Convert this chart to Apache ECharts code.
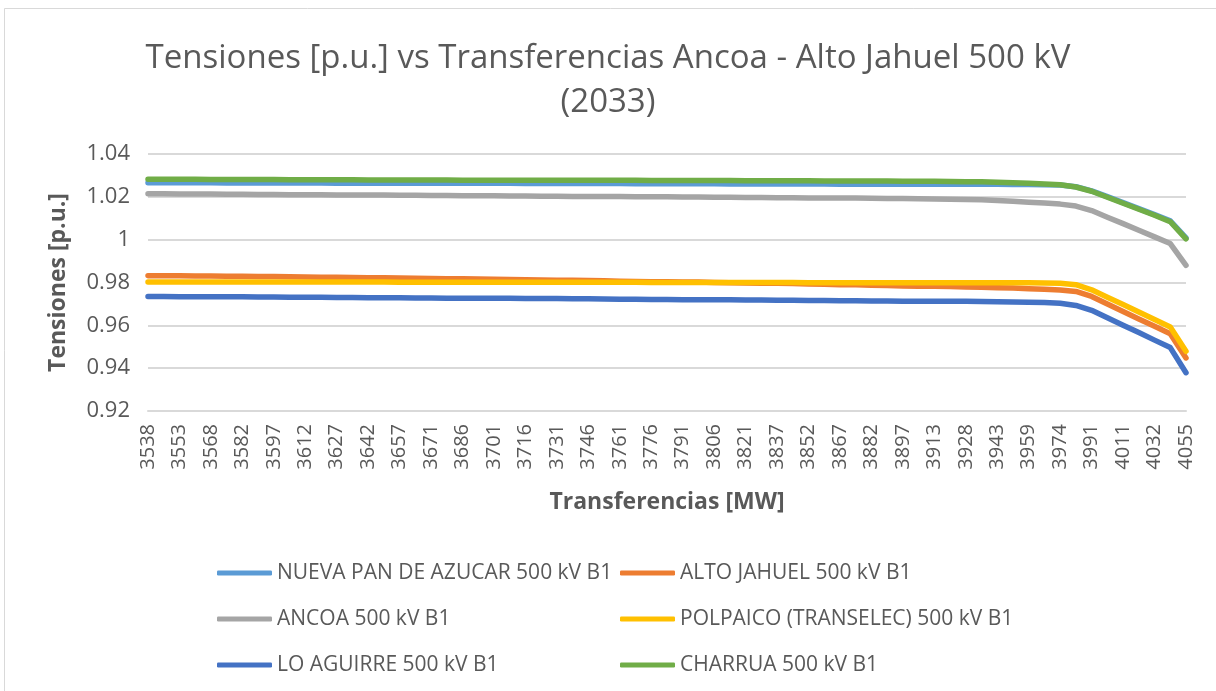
<!DOCTYPE html>
<html>
<head>
<meta charset="utf-8">
<title>Tensiones vs Transferencias</title>
<script src="https://cdn.jsdelivr.net/npm/echarts@6/dist/echarts.min.js"></script>
<style>
  html, body { margin: 0; padding: 0; background: #ffffff; }
  #chart { width: 1216px; height: 691px; }
</style>
</head>
<body>
<div id="chart"></div>
<script>
// Transferencias Ancoa - Alto Jahuel [MW]
const transferencias = [
  3538, 3545, 3553, 3560, 3568, 3575, 3582, 3590, 3597, 3605,
  3612, 3620, 3627, 3634, 3642, 3649, 3657, 3664, 3671, 3679,
  3686, 3694, 3701, 3709, 3716, 3723, 3731, 3738, 3746, 3753,
  3761, 3768, 3776, 3783, 3791, 3798, 3806, 3813, 3821, 3829,
  3837, 3844, 3852, 3859, 3867, 3875, 3882, 3890, 3897, 3905,
  3913, 3920, 3928, 3936, 3943, 3951, 3959, 3967, 3974, 3983,
  3991, 4001, 4011, 4022, 4032, 4044, 4055
];

// Tensiones por barra [p.u.]
const nuevaPanDeAzucar = [
  1.0266, 1.0266, 1.0266, 1.0266, 1.0266, 1.0265, 1.0265, 1.0265, 1.0265, 1.0265,
  1.0265, 1.0265, 1.0264, 1.0264, 1.0264, 1.0264, 1.0264, 1.0264, 1.0263, 1.0263,
  1.0263, 1.0263, 1.0263, 1.0263, 1.0262, 1.0262, 1.0262, 1.0262, 1.0262, 1.0262,
  1.0262, 1.0261, 1.0261, 1.0261, 1.0261, 1.0261, 1.0261, 1.0260, 1.0260, 1.0260,
  1.0260, 1.0260, 1.0260, 1.0260, 1.0259, 1.0259, 1.0259, 1.0259, 1.0259, 1.0259,
  1.0259, 1.0259, 1.0259, 1.0259, 1.0259, 1.0258, 1.0258, 1.0257, 1.0255, 1.0247,
  1.0228, 1.0201, 1.0173, 1.0145, 1.0117, 1.0088, 1.0008
];
const altoJahuel = [
  0.9832, 0.9831, 0.9831, 0.9830, 0.9830, 0.9829, 0.9829, 0.9828, 0.9828, 0.9827,
  0.9826, 0.9825, 0.9824, 0.9823, 0.9822, 0.9822, 0.9821, 0.9820, 0.9819, 0.9818,
  0.9817, 0.9816, 0.9815, 0.9814, 0.9813, 0.9812, 0.9811, 0.9810, 0.9809, 0.9808,
  0.9806, 0.9805, 0.9804, 0.9803, 0.9802, 0.9802, 0.9800, 0.9799, 0.9798, 0.9797,
  0.9796, 0.9795, 0.9793, 0.9792, 0.9790, 0.9789, 0.9787, 0.9786, 0.9784, 0.9783,
  0.9782, 0.9781, 0.9779, 0.9778, 0.9776, 0.9774, 0.9771, 0.9768, 0.9765, 0.9758,
  0.9735, 0.9700, 0.9665, 0.9630, 0.9596, 0.9561, 0.9448
];
const ancoa = [
  1.0214, 1.0214, 1.0213, 1.0213, 1.0213, 1.0212, 1.0212, 1.0211, 1.0211, 1.0210,
  1.0210, 1.0210, 1.0209, 1.0209, 1.0208, 1.0208, 1.0207, 1.0207, 1.0206, 1.0206,
  1.0205, 1.0205, 1.0205, 1.0204, 1.0204, 1.0203, 1.0203, 1.0202, 1.0202, 1.0201,
  1.0201, 1.0200, 1.0200, 1.0200, 1.0199, 1.0199, 1.0198, 1.0198, 1.0197, 1.0197,
  1.0196, 1.0196, 1.0195, 1.0195, 1.0194, 1.0194, 1.0193, 1.0192, 1.0192, 1.0191,
  1.0190, 1.0189, 1.0188, 1.0186, 1.0183, 1.0179, 1.0175, 1.0171, 1.0166, 1.0157,
  1.0136, 1.0105, 1.0075, 1.0044, 1.0013, 0.9982, 0.9880
];
const polpaico = [
  0.9802, 0.9802, 0.9802, 0.9802, 0.9802, 0.9802, 0.9802, 0.9802, 0.9802, 0.9802,
  0.9802, 0.9802, 0.9802, 0.9802, 0.9802, 0.9802, 0.9801, 0.9801, 0.9801, 0.9801,
  0.9801, 0.9801, 0.9801, 0.9801, 0.9801, 0.9801, 0.9801, 0.9801, 0.9801, 0.9801,
  0.9801, 0.9801, 0.9800, 0.9800, 0.9800, 0.9800, 0.9800, 0.9800, 0.9800, 0.9800,
  0.9800, 0.9800, 0.9799, 0.9799, 0.9799, 0.9799, 0.9799, 0.9799, 0.9799, 0.9799,
  0.9799, 0.9799, 0.9799, 0.9799, 0.9799, 0.9799, 0.9799, 0.9798, 0.9797, 0.9790,
  0.9766, 0.9731, 0.9697, 0.9662, 0.9627, 0.9592, 0.9479
];
const loAguirre = [
  0.9735, 0.9735, 0.9734, 0.9734, 0.9733, 0.9733, 0.9733, 0.9732, 0.9732, 0.9731,
  0.9731, 0.9731, 0.9730, 0.9730, 0.9729, 0.9729, 0.9729, 0.9728, 0.9728, 0.9727,
  0.9727, 0.9727, 0.9726, 0.9726, 0.9725, 0.9725, 0.9725, 0.9724, 0.9724, 0.9723,
  0.9722, 0.9722, 0.9721, 0.9721, 0.9720, 0.9720, 0.9719, 0.9719, 0.9718, 0.9718,
  0.9717, 0.9717, 0.9716, 0.9716, 0.9715, 0.9715, 0.9714, 0.9714, 0.9713, 0.9713,
  0.9713, 0.9712, 0.9712, 0.9711, 0.9710, 0.9709, 0.9708, 0.9707, 0.9703, 0.9693,
  0.9670, 0.9635, 0.9600, 0.9566, 0.9531, 0.9496, 0.9379
];
const charrua = [
  1.0282, 1.0282, 1.0282, 1.0282, 1.0281, 1.0281, 1.0281, 1.0281, 1.0281, 1.0280,
  1.0280, 1.0280, 1.0280, 1.0280, 1.0279, 1.0279, 1.0279, 1.0279, 1.0279, 1.0279,
  1.0278, 1.0278, 1.0278, 1.0278, 1.0278, 1.0278, 1.0277, 1.0277, 1.0277, 1.0277,
  1.0277, 1.0277, 1.0276, 1.0276, 1.0276, 1.0276, 1.0276, 1.0276, 1.0275, 1.0275,
  1.0275, 1.0275, 1.0275, 1.0274, 1.0274, 1.0274, 1.0274, 1.0274, 1.0273, 1.0273,
  1.0273, 1.0272, 1.0271, 1.0270, 1.0268, 1.0266, 1.0263, 1.0260, 1.0256, 1.0246,
  1.0226, 1.0198, 1.0170, 1.0142, 1.0114, 1.0084, 1.0004
];

const seriesNames = [
  'NUEVA PAN DE AZUCAR 500 kV B1',
  'ALTO JAHUEL 500 kV B1',
  'ANCOA 500 kV B1',
  'POLPAICO (TRANSELEC) 500 kV B1',
  'LO AGUIRRE 500 kV B1',
  'CHARRUA 500 kV B1'
];
const seriesData = [nuevaPanDeAzucar, altoJahuel, ancoa, polpaico, loAguirre, charrua];
const seriesColors = ['#5B9BD5', '#ED7D31', '#A5A5A5', '#FFC000', '#4472C4', '#70AD47'];

const yTicks = { min: 0.92, max: 1.04, step: 0.02 };

const FONT = '"Open Sans", "Noto Sans", sans-serif';
const TEXT = '#595959';

const chart = echarts.init(document.getElementById('chart'), null, { renderer: 'canvas' });

const legendCommon = {
  orient: 'vertical',
  icon: 'roundRect',
  itemWidth: 55,
  itemHeight: 5,
  itemGap: 24,
  top: 557,
  selectedMode: false,
  textStyle: { fontFamily: FONT, fontSize: 21, color: TEXT, lineHeight: 22 }
};

chart.setOption({
  animation: false,
  backgroundColor: '#ffffff',
  color: seriesColors,
  title: {
    text: 'Tensiones [p.u.] vs Transferencias Ancoa - Alto Jahuel 500 kV\n(2033)',
    left: 'center',
    top: 32,
    textStyle: {
      fontFamily: FONT,
      fontWeight: 'normal',
      fontSize: 33,
      lineHeight: 44,
      color: TEXT
    }
  },
  graphic: [{
    type: 'rect',
    shape: { x: 4.5, y: 8.5, width: 1400, height: 800 },
    style: { fill: 'none', stroke: '#d9d9d9', lineWidth: 1 },
    silent: true
  }],
  legend: [
    Object.assign({}, legendCommon, { left: 212, data: [seriesNames[0], seriesNames[2], seriesNames[4]] }),
    Object.assign({}, legendCommon, { left: 615, data: [seriesNames[1], seriesNames[3], seriesNames[5]] })
  ],
  grid: { left: 148, right: 30, top: 154, height: 257, containLabel: false },
  xAxis: {
    type: 'category',
    data: transferencias,
    boundaryGap: false,
    name: 'Transferencias [MW]',
    nameLocation: 'middle',
    nameGap: 80,
    nameTextStyle: { fontFamily: FONT, fontSize: 23, fontWeight: 'bold', color: TEXT },
    axisLine: { show: true, lineStyle: { color: '#d9d9d9', width: 2 } },
    axisTick: { show: false },
    axisLabel: {
      interval: 1,
      rotate: 90,
      margin: 13,
      fontFamily: FONT,
      fontSize: 20,
      color: TEXT
    },
    splitLine: { show: false }
  },
  yAxis: {
    type: 'value',
    min: yTicks.min,
    max: yTicks.max,
    interval: yTicks.step,
    name: 'Tensiones [p.u.]',
    nameLocation: 'middle',
    nameGap: 78,
    nameTextStyle: { fontFamily: FONT, fontSize: 23, fontWeight: 'bold', color: TEXT },
    axisLine: { show: false },
    axisTick: { show: false },
    axisLabel: {
      margin: 18,
      fontFamily: FONT,
      fontSize: 22,
      color: TEXT,
      formatter: v => String(Math.round(v * 100) / 100)
    },
    splitLine: { lineStyle: { color: '#d9d9d9', width: 2 } }
  },
  series: seriesNames.map((name, i) => ({
    name: name,
    type: 'line',
    data: seriesData[i],
    showSymbol: false,
    symbol: 'none',
    smooth: false,
    lineStyle: { width: 5.5, color: seriesColors[i], cap: 'round', join: 'round' },
    itemStyle: { color: seriesColors[i] },
    emphasis: { disabled: true }
  }))
});
</script>
</body>
</html>
